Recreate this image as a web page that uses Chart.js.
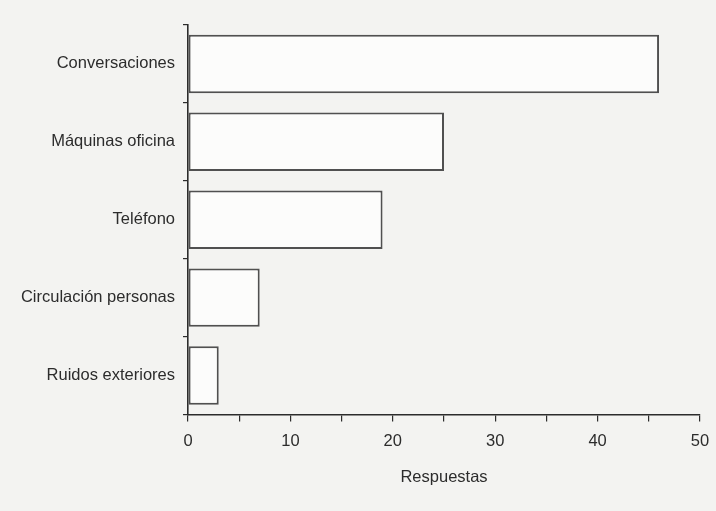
<!DOCTYPE html>
<html>
<head>
<meta charset="utf-8">
<script src="https://cdn.jsdelivr.net/npm/chart.js@4"></script>
<style>
  html, body { margin: 0; padding: 0; background: #f3f3f1; }
  #wrap { width: 716px; height: 511px; }
</style>
</head>
<body>
<div id="wrap"><canvas id="chart" width="716" height="511"></canvas></div>
<script>
/* ── fuentes de ruido en la oficina ── */
const categories = ['Conversaciones', 'Máquinas oficina', 'Teléfono', 'Circulación personas', 'Ruidos exteriores'];
const respuestas = [46, 25, 19, 7, 3];
const xTickLabels = [0, 10, 20, 30, 40, 50];

const ink = '#2c2c2c';
Chart.defaults.font.family = "'Liberation Sans', Arial, sans-serif";
Chart.defaults.color = ink;

new Chart(document.getElementById('chart'), {
  type: 'bar',
  data: {
    labels: categories,
    datasets: [{
      data: respuestas,
      backgroundColor: '#fcfcfb',
      borderColor: '#505050',
      borderWidth: 2,
      borderSkipped: false,
      categoryPercentage: 1,
      barPercentage: 0.75,
    }]
  },
  options: {
    indexAxis: 'y',
    responsive: false,
    animation: false,
    layout: { padding: { top: 25, right: 16, bottom: 24, left: 0 } },
    plugins: {
      legend: { display: false },
      tooltip: { enabled: false },
    },
    scales: {
      x: {
        min: 0,
        max: 50,
        // keep the 50 label from shrinking the plot area
        afterFit: (scale) => { scale.paddingRight = 0; scale.paddingLeft = 0; },
        ticks: {
          stepSize: 5,
          padding: 10,
          font: { size: 16.5 },
          color: ink,
          callback: (val) => xTickLabels.includes(val) ? String(val) : '',
        },
        grid: { drawOnChartArea: false, tickLength: 7, color: ink, lineWidth: 1.2 },
        border: { color: ink, width: 1.6 },
        title: {
          display: true,
          text: 'Respuestas',
          font: { size: 16.5 },
          color: ink,
          padding: { top: 6, bottom: 0 },
        },
      },
      y: {
        afterFit: (scale) => { scale.width = 188; },
        ticks: { padding: 8, font: { size: 16.5 }, color: ink },
        grid: { drawOnChartArea: false, offset: true, tickLength: 5, color: ink, lineWidth: 1.2 },
        border: { color: ink, width: 1.6 },
      },
    },
  },
});
</script>
</body>
</html>
